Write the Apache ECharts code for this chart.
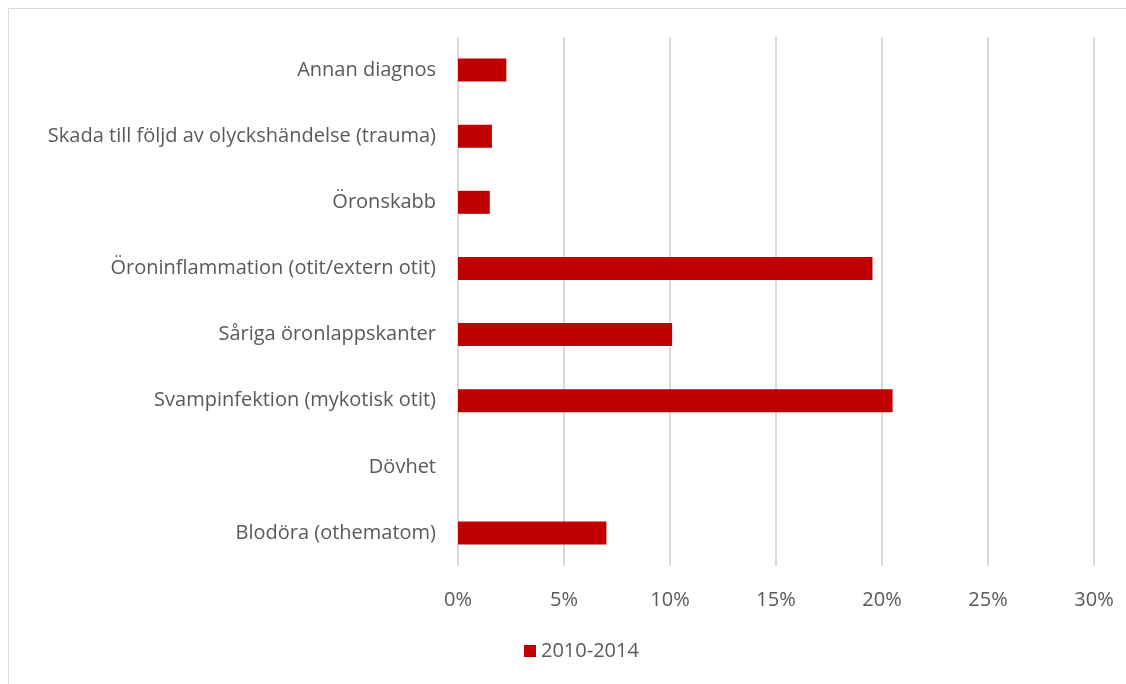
<!DOCTYPE html>
<html>
<head>
<meta charset="utf-8">
<script src="https://cdn.jsdelivr.net/npm/echarts@6/dist/echarts.min.js"></script>
<style>
  html, body { margin: 0; padding: 0; background: #fff; }
  #main { width: 1126px; height: 684px; }
</style>
</head>
<body>
<div id="main"></div>
<script>
// kategorier, nedifrån och upp (som i y-axeln)
var categories = [
  'Blodöra (othematom)',
  'Dövhet',
  'Svampinfektion (mykotisk otit)',
  'Såriga öronlappskanter',
  'Öroninflammation (otit/extern otit)',
  'Öronskabb',
  'Skada till följd av olyckshändelse (trauma)',
  'Annan diagnos'
]
// andel i procent, 2010-2014
var values2010_2014 = [7.0, 0, 20.5, 10.1, 19.55, 1.5, 1.6, 2.28]
var seriesName = '2010-2014'
var xTicks = [0, 5, 10, 15, 20, 25, 30]

var myChart = echarts.init(document.getElementById('main'))
var font = '"Open Sans", "Liberation Sans", sans-serif'

myChart.setOption({
  animation: false,
  textStyle: { fontFamily: font },
  graphic: [{
    type: 'rect',
    silent: true,
    shape: { x: 8.5, y: 8.5, width: 1130, height: 690 },
    style: { fill: 'none', stroke: '#d9d9d9', lineWidth: 1 }
  }],
  grid: {
    left: 458,
    right: 32,
    top: 37,
    bottom: 118,
    containLabel: false
  },
  legend: {
    bottom: 18,
    left: 519,
    itemWidth: 12,
    itemHeight: 12,
    icon: 'rect',
    itemGap: 6,
    textStyle: { color: '#595959', fontSize: 20, fontFamily: font },
    data: [seriesName]
  },
  xAxis: {
    type: 'value',
    min: xTicks[0],
    max: xTicks[xTicks.length - 1],
    interval: 5,
    axisLine: { show: false },
    axisTick: { show: false },
    axisLabel: {
      color: '#595959',
      fontSize: 20,
      fontFamily: font,
      margin: 24,
      formatter: function (v) { return v + '%' }
    },
    splitLine: { lineStyle: { color: '#d9d9d9', width: 2 } }
  },
  yAxis: {
    type: 'category',
    data: categories,
    axisLine: { show: false },
    axisTick: { show: false },
    axisLabel: { color: '#595959', fontSize: 20, fontFamily: font, margin: 22 }
  },
  series: [{
    name: seriesName,
    type: 'bar',
    barWidth: 23,
    data: values2010_2014,
    itemStyle: { color: '#c00000' }
  }]
})
</script>
</body>
</html>
